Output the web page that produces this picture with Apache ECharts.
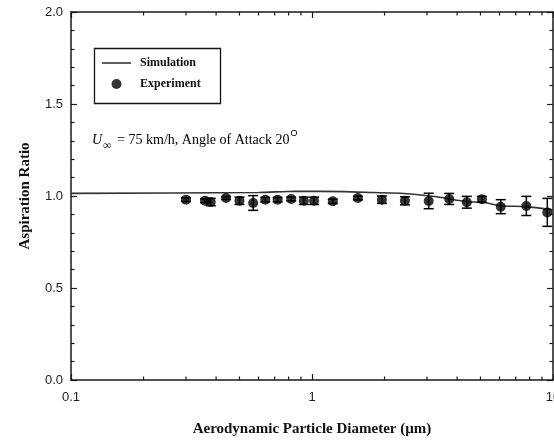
<!DOCTYPE html>
<html>
<head>
<meta charset="utf-8">
<script src="https://cdn.jsdelivr.net/npm/echarts@6/dist/echarts.min.js"></script>
<style>
  html, body { margin: 0; padding: 0; background: #fff; }
  #chart { width: 554px; height: 440px; }
</style>
</head>
<body>
<div id="chart"></div>
<script>
// Measured aspiration ratio vs. aerodynamic particle diameter (µm)
const expDiameter = [0.30, 0.36, 0.38, 0.44, 0.50, 0.57, 0.64, 0.72, 0.82, 0.925, 1.02, 1.22, 1.55, 1.95, 2.43, 3.05, 3.71, 4.39, 5.07, 6.07, 7.75, 9.47];
const expRatio    = [0.980, 0.974, 0.967, 0.989, 0.974, 0.962, 0.980, 0.980, 0.984, 0.974, 0.974, 0.971, 0.989, 0.980, 0.974, 0.973, 0.984, 0.966, 0.982, 0.942, 0.946, 0.911];
const expError    = [0.010, 0.010, 0.020, 0.008, 0.020, 0.040, 0.012, 0.012, 0.010, 0.020, 0.020, 0.012, 0.010, 0.020, 0.022, 0.042, 0.030, 0.032, 0.016, 0.038, 0.052, 0.076];

// Simulated aspiration ratio
const simDiameter = [0.1, 0.6, 0.85, 1.35, 1.8, 2.4, 3.3, 3.7, 4.4, 5.1, 6.1, 7.7, 10];
const simRatio    = [1.014, 1.019, 1.026, 1.024, 1.019, 1.014, 0.996, 0.984, 0.969, 0.966, 0.947, 0.942, 0.925];

// Axis ranges and tick values
const xMin = 0.1, xMax = 10;
const yMin = 0, yMax = 2.0, yStep = 0.5;
const xMinorTicks = [0.2, 0.3, 0.4, 0.5, 0.6, 0.7, 0.8, 0.9, 2, 3, 4, 5, 6, 7, 8, 9];

const axisColor = '#1a1a1a';
const serif = '"Liberation Serif", "Times New Roman", serif';
const sans = '"Liberation Sans", Arial, sans-serif';

const chart = echarts.init(document.getElementById('chart'), null, { renderer: 'canvas' });

const logAxisBase = {
  type: 'log', logBase: 10, min: xMin, max: xMax,
  axisLine: { show: true, onZero: false, lineStyle: { color: axisColor, width: 1.5 } },
  axisTick: { show: true, inside: true, length: 6, lineStyle: { color: axisColor, width: 1.2 } },
  splitLine: { show: false },
  minorTick: { show: false },
  minorSplitLine: { show: false }
};

const valueAxisBase = {
  type: 'value', min: yMin, max: yMax, interval: yStep,
  axisLine: { show: true, onZero: false, lineStyle: { color: axisColor, width: 1.5 } },
  axisTick: { show: true, inside: true, length: 6, lineStyle: { color: axisColor, width: 1.2 } },
  minorTick: { show: true, splitNumber: 5, length: 3.5, lineStyle: { color: axisColor, width: 1.2 } },
  splitLine: { show: false }
};

const option = {
  backgroundColor: '#ffffff',
  animation: false,
  grid: { left: 71, right: 1, top: 12, bottom: 60, containLabel: false, outerBoundsMode: 'none' },
  xAxis: [
    Object.assign({}, logAxisBase, {
      position: 'bottom',
      name: 'Aerodynamic Particle Diameter (\u00b5m)',
      nameLocation: 'middle',
      nameGap: 42,
      nameTextStyle: { fontFamily: serif, fontWeight: 'bold', fontSize: 15, color: '#111' },
      axisLabel: {
        show: true, margin: 11, fontFamily: sans, fontSize: 13, color: '#222',
        formatter: v => String(v)
      }
    }),
    Object.assign({}, logAxisBase, {
      position: 'top',
      axisLabel: { show: false }
    })
  ],
  yAxis: [
    Object.assign({}, valueAxisBase, {
      position: 'left',
      name: 'Aspiration Ratio',
      nameLocation: 'middle',
      nameGap: 38,
      nameRotate: 90,
      nameTextStyle: { fontFamily: serif, fontWeight: 'bold', fontSize: 15, color: '#111' },
      axisLabel: {
        show: true, margin: 8, fontFamily: sans, fontSize: 13, color: '#222',
        formatter: v => v.toFixed(1)
      }
    }),
    Object.assign({}, valueAxisBase, {
      position: 'right',
      axisLabel: { show: false }
    })
  ],
  legend: {
    orient: 'vertical',
    left: 102,
    top: 57,
    itemWidth: 29,
    itemHeight: 10,
    itemGap: 9,
    padding: 0,
    selectedMode: false,
    textStyle: { fontFamily: serif, fontWeight: 'bold', fontSize: 12, color: '#111', padding: [0, 0, 0, 4] },
    data: [
      { name: 'Simulation', icon: 'path://M0,0 L30,0 L30,1.6 L0,1.6 Z', itemStyle: { color: '#333' } },
      { name: 'Experiment', icon: 'circle', itemStyle: { color: '#000' } }
    ]
  },
  graphic: [
    {
      type: 'rect', left: 92, top: 46, z: 10, silent: true,
      shape: { width: 126, height: 55 },
      style: { fill: 'none', stroke: '#111', lineWidth: 1.3 }
    },
    {
      type: 'text', left: 92, top: 129, z: 10, silent: true,
      style: {
        text: '{u|U}{s|\u221e}{t| = 75 km/h, Angle of Attack 20}{o|O}',
        rich: {
          u: { fontFamily: serif, fontStyle: 'italic', fontSize: 14, color: '#111', verticalAlign: 'bottom', lineHeight: 18 },
          s: { fontFamily: serif, fontSize: 12, color: '#111', verticalAlign: 'bottom', lineHeight: 18, padding: [0, 2, -5, 1] },
          t: { fontFamily: serif, fontSize: 14, color: '#111', verticalAlign: 'bottom', lineHeight: 18 },
          o: { fontFamily: sans, fontSize: 9, color: '#111', verticalAlign: 'top', lineHeight: 18, padding: [0, 0, 0, 1] }
        }
      }
    }
  ],
  series: [
    {
      name: 'Simulation',
      type: 'line',
      xAxisIndex: 0, yAxisIndex: 0,
      data: simDiameter.map((d, i) => [d, simRatio[i]]),
      symbol: 'none',
      smooth: 0.25,
      lineStyle: { color: '#333', width: 1.6 },
      z: 3
    },
    {
      name: 'ErrorBars',
      type: 'custom',
      xAxisIndex: 0, yAxisIndex: 0,
      data: expDiameter.map((d, i) => [d, expRatio[i] - expError[i], expRatio[i] + expError[i]]),
      renderItem: function (params, api) {
        const lo = api.coord([api.value(0), api.value(1)]);
        const hi = api.coord([api.value(0), api.value(2)]);
        const cap = 5;
        const st = { stroke: '#000', lineWidth: 1.5 };
        return {
          type: 'group',
          children: [
            { type: 'line', shape: { x1: lo[0], y1: lo[1], x2: hi[0], y2: hi[1] }, style: st },
            { type: 'line', shape: { x1: lo[0] - cap, y1: lo[1], x2: lo[0] + cap, y2: lo[1] }, style: st },
            { type: 'line', shape: { x1: hi[0] - cap, y1: hi[1], x2: hi[0] + cap, y2: hi[1] }, style: st }
          ]
        };
      },
      encode: { x: 0, y: [1, 2] },
      z: 4
    },
    {
      name: 'Experiment',
      type: 'scatter',
      xAxisIndex: 0, yAxisIndex: 0,
      data: expDiameter.map((d, i) => [d, expRatio[i]]),
      symbol: 'circle',
      symbolSize: 10,
      itemStyle: { color: '#000' },
      z: 5
    },
    {
      // minor ticks of the logarithmic axes (2..9 in each decade), bottom and top
      name: 'xMinorTicks',
      type: 'custom',
      xAxisIndex: 0, yAxisIndex: 0,
      data: xMinorTicks.map(v => [v]),
      clip: false,
      silent: true,
      renderItem: function (params, api) {
        const b = api.coord([api.value(0), yMin]);
        const t = api.coord([api.value(0), yMax]);
        const len = 3.5;
        const st = { stroke: axisColor, lineWidth: 1.2 };
        return {
          type: 'group',
          children: [
            { type: 'line', shape: { x1: b[0], y1: b[1], x2: b[0], y2: b[1] - len }, style: st },
            { type: 'line', shape: { x1: t[0], y1: t[1], x2: t[0], y2: t[1] + len }, style: st }
          ]
        };
      },
      encode: { x: 0 },
      z: 6
    }
  ]
};

chart.setOption(option);
</script>
</body>
</html>
